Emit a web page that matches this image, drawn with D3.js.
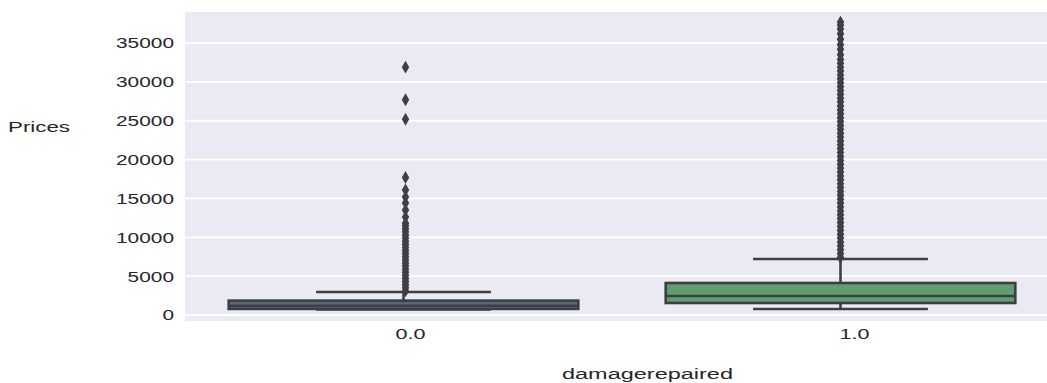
<!DOCTYPE html>
<html><head><meta charset="utf-8">
<script src="https://cdn.jsdelivr.net/npm/d3@7"></script>
<style>
html,body{margin:0;padding:0;background:#fff;}
svg{display:block;font-family:"Liberation Sans",Arial,sans-serif;}
</style></head>
<body><svg id="c" width="1047" height="383"></svg>
<script>
const categories = ["0.0", "1.0"];
const whiskerLow = [720, 770];
const q1 = [780, 1545];
const median = [1200, 2450];
const q3 = [1850, 4120];
const whiskerHigh = [2960, 7200];
const outliers0 = [3100, 3500, 3900, 4300, 4700, 5100, 5500, 5900, 6300, 6700, 7100, 7500, 7900, 8300, 8700, 9100, 9500, 9900, 10300, 10700, 11100, 11500, 11800,
  12600, 13500, 14400, 15200, 16100, 17700, 25200, 27700, 31900];
const outliers1 = [7400, 7900, 8400, 8900, 9400, 9900, 10400, 10900, 11400, 11900, 12400, 12900, 13400, 13900, 14400, 14900, 15400, 15900, 16400, 16900,
  17400, 17900, 18400, 18900, 19400, 19900, 20400, 20900, 21400, 21900, 22400, 22900, 23400, 23900, 24400, 24900, 25400, 25900, 26400, 26900,
  27400, 27900, 28400, 28900, 29400, 29900, 30400, 30900, 31400, 31900, 32400, 32900,
  33500, 34200, 34800, 35500, 36200, 36800, 37300, 37700];
const yTicks = [0, 5000, 10000, 15000, 20000, 25000, 30000, 35000];
const fills = ["#56687a", "#5f9e6e"];

const svg = d3.select("#c");
const pl = 185, pr = 1059, pt = 12, pb = 321;
const x = d3.scaleBand().domain(categories).range([pl, pr]).padding(0);
const y = d3.scaleLinear().domain([-772, 39000]).range([pb, pt]);

svg.append("rect").attr("x", pl).attr("y", pt).attr("width", pr - pl).attr("height", pb - pt).attr("fill", "#eaeaf2");

svg.append("g").selectAll("line").data(yTicks).join("line")
  .attr("x1", pl).attr("x2", pr).attr("y1", d => y(d)).attr("y2", d => y(d))
  .attr("stroke", "#fff").attr("stroke-width", 1.8);

const yAxis = svg.append("g").attr("transform", `translate(${pl - 8},0)`)
  .call(d3.axisLeft(y).tickValues(yTicks).tickSize(0).tickFormat(d3.format("d")));
yAxis.select(".domain").remove();
yAxis.selectAll("text").attr("font-size", 14).attr("fill", "#262626")
  .attr("font-family", "Liberation Sans, Arial, sans-serif")
  .attr("dy", "0.35em")
  .attr("textLength", d => String(d).length * 11.6).attr("lengthAdjust", "spacingAndGlyphs");

const xAxis = svg.append("g").attr("transform", `translate(0,${pb})`)
  .call(d3.axisBottom(x).tickSize(0));
xAxis.select(".domain").remove();
xAxis.selectAll("text").attr("font-size", 14).attr("fill", "#262626")
  .attr("font-family", "Liberation Sans, Arial, sans-serif")
  .attr("dx", (d, i) => i === 0 ? 7 : 14).attr("y", 8)
  .attr("textLength", 30).attr("lengthAdjust", "spacingAndGlyphs");

const lc = "#3e3e44", lw = 2.6;
const bw = x.bandwidth() * 0.8;
const g = svg.append("g");
categories.forEach((c, i) => {
  const cx = x(c) + x.bandwidth() / 2;
  g.append("line").attr("x1", cx).attr("x2", cx).attr("y1", y(q3[i])).attr("y2", y(whiskerHigh[i])).attr("stroke", lc).attr("stroke-width", lw);
  g.append("line").attr("x1", cx).attr("x2", cx).attr("y1", y(q1[i])).attr("y2", y(whiskerLow[i])).attr("stroke", lc).attr("stroke-width", lw);
  [whiskerHigh[i], whiskerLow[i]].forEach(v => {
    g.append("line").attr("x1", cx - bw / 4).attr("x2", cx + bw / 4).attr("y1", y(v)).attr("y2", y(v)).attr("stroke", lc).attr("stroke-width", lw);
  });
  g.append("rect").attr("x", cx - bw / 2).attr("width", bw)
    .attr("y", y(q3[i])).attr("height", y(q1[i]) - y(q3[i]))
    .attr("fill", fills[i]).attr("stroke", lc).attr("stroke-width", lw);
  g.append("line").attr("x1", cx - bw / 2).attr("x2", cx + bw / 2).attr("y1", y(median[i])).attr("y2", y(median[i])).attr("stroke", lc).attr("stroke-width", lw);
});

const diamond = d3.symbol().type(d3.symbolDiamond).size(48);
[outliers0, outliers1].forEach((arr, i) => {
  const cx = x(categories[i]) + x.bandwidth() / 2 + (i === 0 ? 2 : 0);
  svg.append("g").selectAll("path").data(arr).join("path")
    .attr("d", diamond)
    .attr("transform", d => `translate(${cx},${y(d)})`)
    .attr("fill", lc);
});

svg.append("text").attr("x", 8).attr("y", 127).attr("dy", "0.35em")
  .attr("font-size", 14).attr("fill", "#262626").attr("textLength", 62).attr("lengthAdjust", "spacingAndGlyphs")
  .text("Prices");
svg.append("text").attr("x", 562).attr("y", 374).attr("dy", "0.35em")
  .attr("font-size", 14).attr("fill", "#262626").attr("textLength", 171).attr("lengthAdjust", "spacingAndGlyphs")
  .text("damagerepaired");
</script></body></html>
